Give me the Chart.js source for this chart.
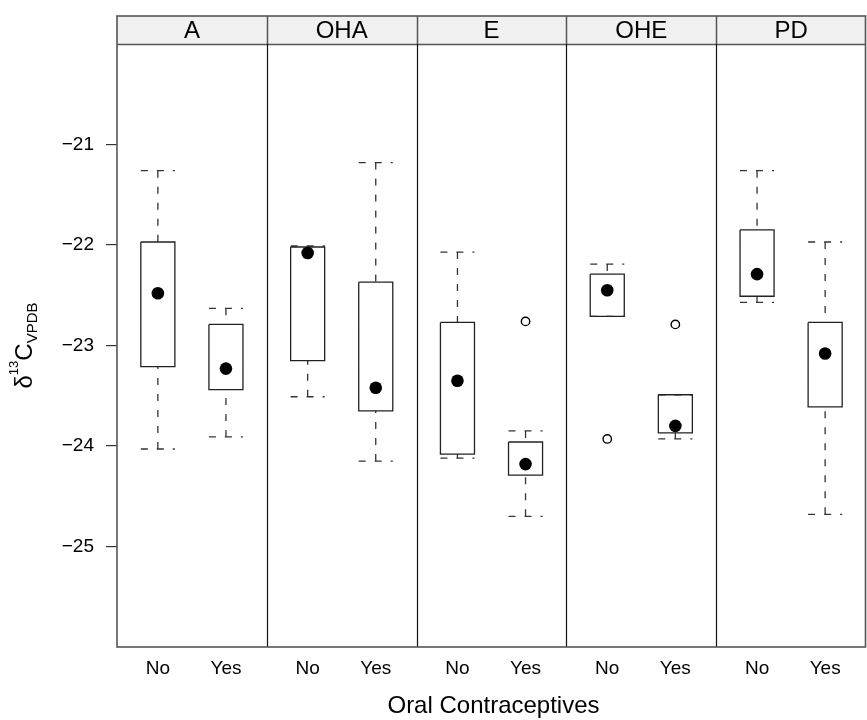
<!DOCTYPE html>
<html><head><meta charset="utf-8">
<script src="https://cdn.jsdelivr.net/npm/chart.js@4.4.1/dist/chart.umd.min.js"></script>
<style>html,body{margin:0;padding:0;background:#fff;} canvas{display:block;}</style>
</head><body>
<canvas id="c" width="867" height="720"></canvas>
<script>
// ---- data ----
const panels = ['A', 'OHA', 'E', 'OHE', 'PD'];
const groups = ['No', 'Yes'];
const yTicks = [-21, -22, -23, -24, -25];
const whiskerHigh = [[-21.26, -22.63], [-22.01, -21.18], [-22.07, -23.85], [-22.19, -23.49], [-21.26, -21.97]];
const boxUpper    = [[-21.97, -22.79], [-22.02, -22.37], [-22.77, -23.96], [-22.29, -23.49], [-21.85, -22.77]];
const medians     = [[-22.48, -23.23], [-22.08, -23.42], [-23.35, -24.18], [-22.45, -23.80], [-22.29, -23.08]];
const boxLower    = [[-23.21, -23.44], [-23.15, -23.65], [-24.08, -24.29], [-22.71, -23.87], [-22.51, -23.61]];
const whiskerLow  = [[-24.03, -23.91], [-23.51, -24.15], [-24.12, -24.70], [-22.71, -23.93], [-22.57, -24.68]];
const outliers    = [[[], []], [[], []], [[], [-22.76]], [[-23.93], [-22.79]], [[], []]];
const xTitle = 'Oral Contraceptives';

// ---- layout in data units ----
const PANEL_SPAN = 2.2, PAD = 0.4, HALF = 0.25;
const xPos = (p, g) => p * PANEL_SPAN + (g + 1) - PAD;
const FONT = '"Liberation Sans", Arial, Helvetica, sans-serif';

const boxPts = [], whiskPts = [], medPts = [], outPts = [], tickVals = [], tickLabels = [];
panels.forEach((name, p) => groups.forEach((gname, g) => {
  const x = xPos(p, g);
  tickVals.push(x); tickLabels.push(gname);
  const hi = boxUpper[p][g], lo = boxLower[p][g];
  const wh = whiskerHigh[p][g], wl = whiskerLow[p][g];
  boxPts.push({x: x - HALF, y: hi}, {x: x + HALF, y: hi}, {x: x + HALF, y: lo},
              {x: x - HALF, y: lo}, {x: x - HALF, y: hi}, {x: x, y: null});
  whiskPts.push({x: x - HALF, y: wh}, {x: x + HALF, y: wh}, {x: x, y: null},
                {x: x, y: wh}, {x: x, y: hi}, {x: x, y: null},
                {x: x - HALF, y: wl}, {x: x + HALF, y: wl}, {x: x, y: null},
                {x: x, y: wl}, {x: x, y: lo}, {x: x, y: null});
  medPts.push({x: x, y: medians[p][g]});
  outliers[p][g].forEach(v => outPts.push({x: x, y: v}));
}));

const latticePlugin = {
  id: 'lattice',
  afterDraw(chart) {
    const ctx = chart.ctx, ca = chart.chartArea;
    const xs = chart.scales.x;
    const stripTop = ca.top - 28;
    ctx.save();
    // strips
    ctx.fillStyle = '#f0f0f0';
    ctx.fillRect(ca.left, stripTop, ca.right - ca.left, ca.top - stripTop);
    ctx.font = '24px ' + FONT;
    ctx.fillStyle = '#000';
    ctx.textAlign = 'center';
    ctx.textBaseline = 'middle';
    panels.forEach((name, p) => {
      const l = xs.getPixelForValue(p * PANEL_SPAN), r = xs.getPixelForValue((p + 1) * PANEL_SPAN);
      ctx.fillText(name, (l + r) / 2, (stripTop + ca.top) / 2 + 1);
    });
    // strip borders
    ctx.strokeStyle = '#555';
    ctx.lineWidth = 1.5;
    ctx.beginPath();
    ctx.moveTo(ca.left, ca.top + 0.5); ctx.lineTo(ca.right, ca.top + 0.5);
    for (let p = 1; p < panels.length; p++) {
      const px = Math.round(xs.getPixelForValue(p * PANEL_SPAN)) + 0.5;
      ctx.moveTo(px, stripTop); ctx.lineTo(px, ca.top);
    }
    ctx.stroke();
    // panel separators
    ctx.strokeStyle = '#111';
    ctx.lineWidth = 1.2;
    ctx.beginPath();
    for (let p = 1; p < panels.length; p++) {
      const px = Math.round(xs.getPixelForValue(p * PANEL_SPAN)) + 0.5;
      ctx.moveTo(px, ca.top); ctx.lineTo(px, ca.bottom);
    }
    ctx.stroke();
    // outer frame
    ctx.strokeStyle = '#555';
    ctx.lineWidth = 1.6;
    ctx.strokeRect(ca.left, stripTop, ca.right - ca.left - 0.5, ca.bottom - stripTop);
    // x title
    ctx.fillStyle = '#000';
    ctx.font = '24px ' + FONT;
    ctx.textAlign = 'center';
    ctx.textBaseline = 'middle';
    ctx.fillText(xTitle, (ca.left + ca.right) / 2 + 2, 706);
    // y title: delta^13 C_VPDB
    const parts = [
      {t: 'δ', size: 24, dy: 0},
      {t: '13', size: 13, dy: -14},
      {t: 'C', size: 24, dy: 0},
      {t: 'VPDB', size: 15, dy: 5}
    ];
    let total = 0;
    parts.forEach(pt => { ctx.font = pt.size + 'px ' + FONT; pt.w = ctx.measureText(pt.t).width; total += pt.w; });
    ctx.translate(32, (ca.top + ca.bottom) / 2);
    ctx.rotate(-Math.PI / 2);
    ctx.textAlign = 'left';
    ctx.textBaseline = 'alphabetic';
    let cx = -total / 2;
    parts.forEach(pt => {
      ctx.font = pt.size + 'px ' + FONT;
      ctx.fillText(pt.t, cx, pt.dy);
      cx += pt.w;
    });
    ctx.restore();
  }
};

new Chart(document.getElementById('c'), {
  type: 'scatter',
  data: {
    datasets: [
      {data: medPts, pointRadius: 6.3, pointBackgroundColor: '#000', pointBorderWidth: 0, showLine: false},
      {data: outPts, pointRadius: 4.2, pointBackgroundColor: 'rgba(0,0,0,0)', pointBorderColor: '#000', pointBorderWidth: 1.4, showLine: false},
      {data: boxPts, showLine: true, pointRadius: 0, borderColor: '#222', borderWidth: 1.3, spanGaps: false, fill: false},
      {data: whiskPts, showLine: true, pointRadius: 0, borderColor: '#333', borderWidth: 1.3, borderDash: [7, 9], spanGaps: false, fill: false}
    ]
  },
  options: {
    responsive: false,
    animation: false,
    devicePixelRatio: 1,
    events: [],
    layout: {autoPadding: false, padding: {top: 44, right: 1, left: 0, bottom: 0}},
    plugins: {legend: {display: false}, tooltip: {enabled: false}},
    scales: {
      x: {
        type: 'linear', min: 0, max: panels.length * PANEL_SPAN,
        afterBuildTicks: s => { s.ticks = tickVals.map(v => ({value: v})); },
        afterFit: s => { s.height = 73; s.paddingLeft = 0; s.paddingRight = 0; },
        ticks: {
          autoSkip: false, maxRotation: 0, padding: 10, color: '#000',
          font: {family: FONT, size: 19},
          callback: (v, i) => tickLabels[i]
        },
        grid: {display: false, drawTicks: false},
        border: {display: false}
      },
      y: {
        type: 'linear', min: -26, max: -20,
        afterBuildTicks: s => { s.ticks = yTicks.map(v => ({value: v})); },
        afterFit: s => { s.width = 117; s.paddingTop = 0; s.paddingBottom = 0; },
        ticks: {
          padding: 12, color: '#000',
          font: {family: FONT, size: 19},
          callback: v => (v < 0 ? '\u2212' : '') + Math.abs(v)
        },
        grid: {drawOnChartArea: false, drawTicks: true, tickLength: 11, tickColor: '#333', lineWidth: 1.2},
        border: {display: false}
      }
    }
  },
  plugins: [latticePlugin]
});
</script>
</body></html>
